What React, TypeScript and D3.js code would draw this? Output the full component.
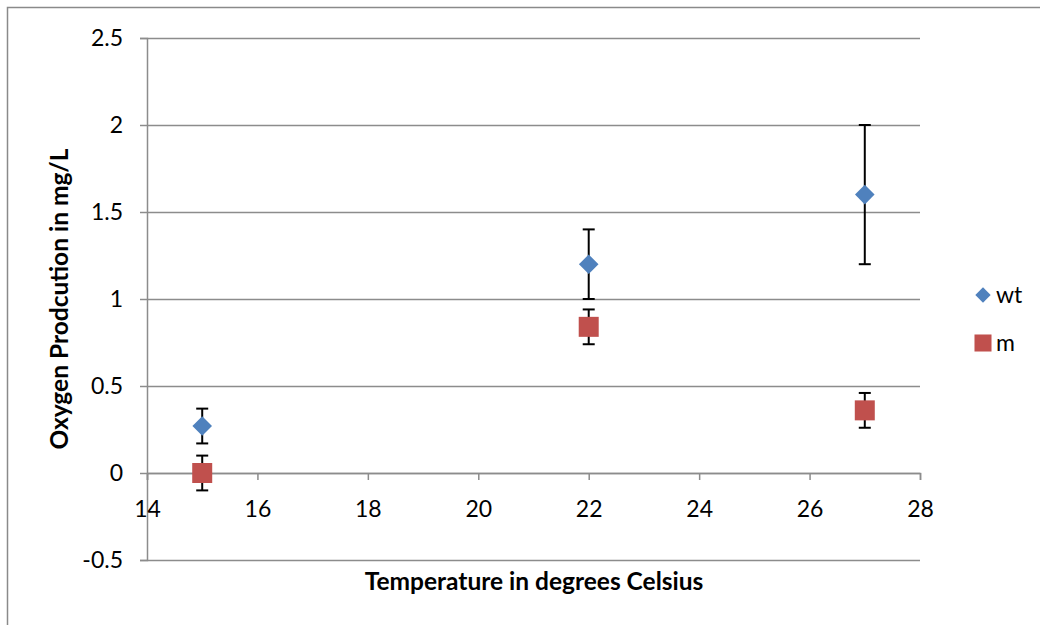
import { useEffect, useRef } from 'react';
import * as d3 from 'd3';

const temperatures = [15, 22, 27];
const wtValues = [0.27, 1.2, 1.6];
const wtErrors = [0.1, 0.2, 0.4];
const mValues = [0.0, 0.84, 0.36];
const mErrors = [0.1, 0.1, 0.1];
const xTicks = [14, 16, 18, 20, 22, 24, 26, 28];
const yTicks = [-0.5, 0, 0.5, 1, 1.5, 2, 2.5];

const BLUE = '#4f81bd';
const RED = '#c0504d';
const GRID = '#8c8c8c';
const FONT = 'Lato, "Open Sans", sans-serif';

export default function App() {
  const svgRef = useRef<SVGSVGElement>(null);

  useEffect(() => {
    if (!svgRef.current) return;
    const svg = d3.select(svgRef.current);
    svg.selectAll('*').remove();

    const x = d3.scaleLinear().domain([14, 28]).range([147, 920]);
    const y = d3.scaleLinear().domain([-0.5, 2.5]).range([560, 38]);

    // outer chart frame
    svg.append('rect')
      .attr('x', 7.5).attr('y', 7.5)
      .attr('width', 1100).attr('height', 700)
      .attr('fill', 'white')
      .attr('stroke', '#8a8a8a')
      .attr('stroke-width', 1.5);

    // horizontal gridlines + y ticks
    const yAxis = svg.append('g')
      .attr('transform', `translate(${x(14)},0)`)
      .call(d3.axisLeft(y).tickValues(yTicks).tickSize(7).tickPadding(17)
        .tickFormat(d => String(d)))
      .call(g => g.select('.domain').attr('stroke', GRID).attr('stroke-width', 1.5))
      .call(g => g.selectAll('.tick line').attr('stroke', GRID).attr('stroke-width', 1.5))
      .call(g => g.selectAll('.tick text')
        .attr('fill', '#000').attr('font-size', '23px').attr('font-family', FONT));
    yAxis.selectAll('.tick').append('line')
      .attr('x1', 0).attr('x2', x(28) - x(14))
      .attr('stroke', GRID).attr('stroke-width', 1.5);

    // x axis at y = 0
    svg.append('g')
      .attr('transform', `translate(0,${y(0)})`)
      .call(d3.axisBottom(x).tickValues(xTicks).tickSize(7).tickPadding(21)
        .tickFormat(d => String(d)))
      .call(g => g.select('.domain').attr('stroke', GRID).attr('stroke-width', 1.5))
      .call(g => g.selectAll('.tick line').attr('stroke', GRID).attr('stroke-width', 1.5))
      .call(g => g.selectAll('.tick text')
        .attr('fill', '#000').attr('font-size', '23px').attr('font-family', FONT));

    const series = [
      { name: 'wt', values: wtValues, errors: wtErrors, color: BLUE, shape: d3.symbolDiamond2, size: 245, legendSize: 150 },
      { name: 'm', values: mValues, errors: mErrors, color: RED, shape: d3.symbolSquare, size: 400, legendSize: 290 },
    ];

    series.forEach(s => {
      const pts = temperatures.map((t, i) => ({ t, v: s.values[i], e: s.errors[i] }));
      const eb = svg.append('g').attr('stroke', '#000').attr('stroke-width', 2);
      pts.forEach(p => {
        eb.append('line')
          .attr('x1', x(p.t)).attr('x2', x(p.t))
          .attr('y1', y(p.v + p.e)).attr('y2', y(p.v - p.e));
        [p.v + p.e, p.v - p.e].forEach(v => {
          eb.append('line')
            .attr('x1', x(p.t) - 6).attr('x2', x(p.t) + 6)
            .attr('y1', y(v)).attr('y2', y(v));
        });
      });
      svg.append('g').selectAll('path')
        .data(pts).enter().append('path')
        .attr('transform', d => `translate(${x(d.t)},${y(d.v)})`)
        .attr('d', d3.symbol().type(s.shape).size(s.size)())
        .attr('fill', s.color);
    });

    // legend
    const legend = svg.append('g').attr('transform', 'translate(983,295)');
    series.forEach((s, i) => {
      const row = legend.append('g').attr('transform', `translate(0,${i * 48})`);
      row.append('path')
        .attr('d', d3.symbol().type(s.shape).size(s.legendSize)())
        .attr('fill', s.color);
      row.append('text')
        .attr('x', 13).attr('dy', '0.35em')
        .attr('font-size', '23px').attr('font-family', FONT)
        .text(s.name);
    });

    // axis titles
    svg.append('text')
      .attr('x', 534).attr('y', 590)
      .attr('text-anchor', 'middle')
      .attr('font-size', '24.5px').attr('font-weight', 'bold').attr('font-family', FONT)
      .text('Temperature in degrees Celsius');

    svg.append('text')
      .attr('transform', 'translate(68,299) rotate(-90)')
      .attr('text-anchor', 'middle')
      .attr('font-size', '24.5px').attr('font-weight', 'bold').attr('font-family', FONT)
      .text('Oxygen Prodcution in mg/L');
  }, []);

  return (
    <svg
      ref={svgRef}
      width={1040}
      height={625}
      style={{ position: 'absolute', left: 0, top: 0, background: 'white' }}
    />
  );
}
